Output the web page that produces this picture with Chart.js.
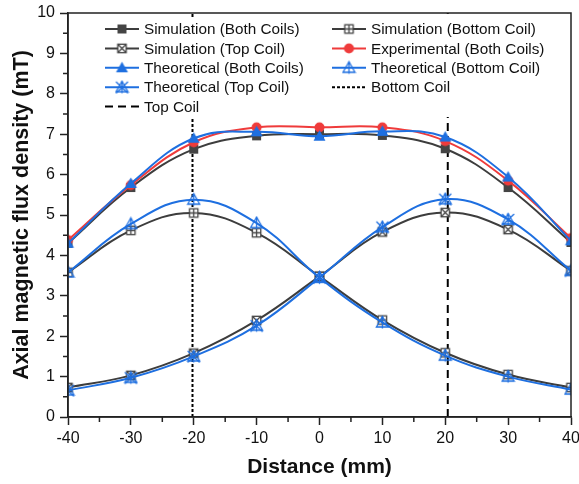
<!DOCTYPE html>
<html>
<head>
<meta charset="utf-8">
<script src="https://cdn.jsdelivr.net/npm/chart.js@4.4.1/dist/chart.umd.min.js"></script>
<style>
  html, body { margin: 0; padding: 0; background: #fff; }
  #wrap { width: 579px; height: 484px; }
</style>
</head>
<body>
<div id="wrap"><canvas id="chart" width="579" height="484"></canvas></div>
<script>
// Data
const distance   = [-40, -30, -20, -10, 0, 10, 20, 30, 40];
const simBoth    = [4.30, 5.68, 6.63, 6.96, 7.00, 6.97, 6.64, 5.68, 4.32];
const expBoth    = [4.38, 5.74, 6.80, 7.17, 7.17, 7.17, 6.83, 5.85, 4.43];
const theoBoth   = [4.30, 5.78, 6.90, 7.06, 6.95, 7.07, 6.93, 5.94, 4.36];
const simBottom  = [3.58, 4.62, 5.05, 4.56, 3.48, 2.40, 1.59, 1.05, 0.73];
const simTop     = [0.73, 1.03, 1.58, 2.39, 3.48, 4.58, 5.06, 4.64, 3.62];
const theoBottom = [3.58, 4.78, 5.38, 4.80, 3.45, 2.34, 1.52, 1.00, 0.68];
const theoTop    = [0.66, 0.97, 1.50, 2.26, 3.45, 4.70, 5.39, 4.89, 3.62];
const bottomCoilX = -20.2;
const topCoilX    = 20.4;
const xTicks = [-40, -30, -20, -10, 0, 10, 20, 30, 40];
const yTicks = [0, 1, 2, 3, 4, 5, 6, 7, 8, 9, 10];

const FONT = "'Liberation Sans', Arial, sans-serif";
const gray  = '#3d3d3d';
const red   = '#ef3b3b';
const blue  = '#1e6fe0';

// small canvases used as point markers
function marker(kind, color) {
  const s = 15, m = s / 2;
  const c = document.createElement('canvas');
  c.width = s; c.height = s;
  const g = c.getContext('2d');
  g.strokeStyle = color; g.fillStyle = color; g.lineWidth = 1.3;
  const sq = 4.2;
  switch (kind) {
    case 'sqFill':
      g.fillRect(m - sq - 0.3, m - sq - 0.3, sq * 2 + 0.6, sq * 2 + 0.6);
      break;
    case 'sqPlus':
    case 'sqCross':
      g.fillStyle = '#fff';
      g.fillRect(m - sq, m - sq, sq * 2, sq * 2);
      g.strokeRect(m - sq, m - sq, sq * 2, sq * 2);
      g.beginPath();
      if (kind === 'sqPlus') {
        g.moveTo(m, m - sq); g.lineTo(m, m + sq);
        g.moveTo(m - sq, m); g.lineTo(m + sq, m);
      } else {
        g.moveTo(m - sq, m - sq); g.lineTo(m + sq, m + sq);
        g.moveTo(m + sq, m - sq); g.lineTo(m - sq, m + sq);
      }
      g.stroke();
      break;
    case 'circle':
      g.beginPath(); g.arc(m, m, 5, 0, Math.PI * 2); g.fill();
      break;
    case 'triFill':
    case 'triOpen':
    case 'triStar':
      g.beginPath();
      g.moveTo(m, m - 6); g.lineTo(m + 6, m + 4.5); g.lineTo(m - 6, m + 4.5); g.closePath();
      if (kind === 'triFill') { g.fill(); break; }
      g.stroke();
      g.beginPath();
      g.moveTo(m, m - 6.5); g.lineTo(m, m + 6);
      if (kind === 'triStar') {
        g.moveTo(m - 6, m - 5.5); g.lineTo(m + 6, m + 6);
        g.moveTo(m + 6, m - 5.5); g.lineTo(m - 6, m + 6);
      }
      g.stroke();
      break;
  }
  return c;
}

const pts = arr => distance.map((x, i) => ({ x: x, y: arr[i] }));

function series(label, arr, color, kind, order) {
  return {
    label: label, data: pts(arr), borderColor: color, backgroundColor: color,
    borderWidth: 2, tension: 0.4, pointStyle: marker(kind, color === gray ? '#444' : color),
    pointRadius: 6, order: order
  };
}
function vline(label, x, dash) {
  return {
    label: label, data: [{ x: x, y: 0 }, { x: x, y: 10 }], borderColor: '#000',
    borderWidth: 2, borderDash: dash, pointRadius: 0, tension: 0, order: 9
  };
}

const datasets = [
  series('Simulation (Both Coils)', simBoth, gray, 'sqFill', 5),
  series('Simulation (Bottom Coil)', simBottom, gray, 'sqPlus', 6),
  series('Simulation (Top Coil)', simTop, gray, 'sqCross', 6),
  series('Experimental (Both Coils)', expBoth, red, 'circle', 3),
  series('Theoretical (Both Coils)', theoBoth, blue, 'triFill', 1),
  series('Theoretical (Bottom Coil)', theoBottom, blue, 'triOpen', 2),
  series('Theoretical (Top Coil)', theoTop, blue, 'triStar', 2),
  vline('Bottom Coil', bottomCoilX, [3, 2]),
  vline('Top Coil', topCoilX, [8, 5])
];

// frame, minor ticks and in-plot legend
const extras = {
  id: 'extras',
  afterDatasetsDraw(chart) {
    const { ctx, chartArea: a, scales } = chart;
    ctx.save();
    ctx.strokeStyle = '#222'; ctx.lineWidth = 1.5;
    ctx.strokeRect(a.left, a.top, a.right - a.left, a.bottom - a.top);
    ctx.beginPath();
    for (let v = -35; v < 40; v += 10) {
      const px = scales.x.getPixelForValue(v);
      ctx.moveTo(px, a.bottom); ctx.lineTo(px, a.bottom + 5);
    }
    for (let v = 0.5; v < 10; v += 1) {
      const py = scales.y.getPixelForValue(v);
      ctx.moveTo(a.left, py); ctx.lineTo(a.left - 5, py);
    }
    ctx.stroke();

    // legend box
    ctx.fillStyle = '#fff';
    ctx.fillRect(102, 18, 453, 99);
    ctx.font = '15.3px ' + FONT;
    ctx.textBaseline = 'middle';
    chart.data.datasets.forEach((ds, i) => {
      const col = i % 2, row = Math.floor(i / 2);
      const x0 = col ? 332 : 105, y = 29 + row * 19.4;
      ctx.strokeStyle = ds.borderColor; ctx.lineWidth = 2;
      ctx.setLineDash(ds.borderDash || []);
      ctx.beginPath(); ctx.moveTo(x0, y); ctx.lineTo(x0 + 34, y); ctx.stroke();
      ctx.setLineDash([]);
      if (ds.pointRadius) {
        const img = ds.pointStyle;
        ctx.drawImage(img, x0 + 17 - img.width / 2, y - img.height / 2);
      }
      ctx.fillStyle = '#111';
      ctx.fillText(ds.label, x0 + 39, y + 1);
    });
    ctx.restore();
  }
};

new Chart(document.getElementById('chart'), {
  type: 'line',
  data: { datasets: datasets },
  options: {
    responsive: false,
    devicePixelRatio: 1,
    animation: false,
    layout: { padding: { top: 13, right: 7, left: 0, bottom: 0 } },
    plugins: { legend: { display: false }, tooltip: { enabled: false } },
    scales: {
      x: {
        type: 'linear', min: -40, max: 40,
        afterBuildTicks: s => { s.ticks = xTicks.map(v => ({ value: v })); },
        afterFit: s => { s.height = 67; s.paddingLeft = 0; s.paddingRight = 0; },
        grid: { drawOnChartArea: false, tickLength: 8, color: '#222', tickWidth: 1.5 },
        border: { color: '#222', width: 1.5 },
        ticks: { font: { family: FONT, size: 16 }, color: '#111', padding: 4, maxRotation: 0 },
        title: { display: true, text: 'Distance (mm)', font: { family: FONT, size: 21, weight: 'bold' }, color: '#111', padding: { top: 0, bottom: 4 } }
      },
      y: {
        min: 0, max: 10,
        afterBuildTicks: s => { s.ticks = yTicks.map(v => ({ value: v })); },
        afterFit: s => { s.width = 68; s.paddingTop = 0; s.paddingBottom = 0; },
        grid: { drawOnChartArea: false, tickLength: 8, color: '#222', tickWidth: 1.5 },
        border: { color: '#222', width: 1.5 },
        ticks: { font: { family: FONT, size: 16 }, color: '#111', padding: 5 },
        title: { display: true, text: 'Axial magnetic flux density (mT)', font: { family: FONT, size: 21.5, weight: 'bold' }, color: '#111', padding: { top: 9, bottom: 0 } }
      }
    }
  },
  plugins: [extras]
});
</script>
</body>
</html>
